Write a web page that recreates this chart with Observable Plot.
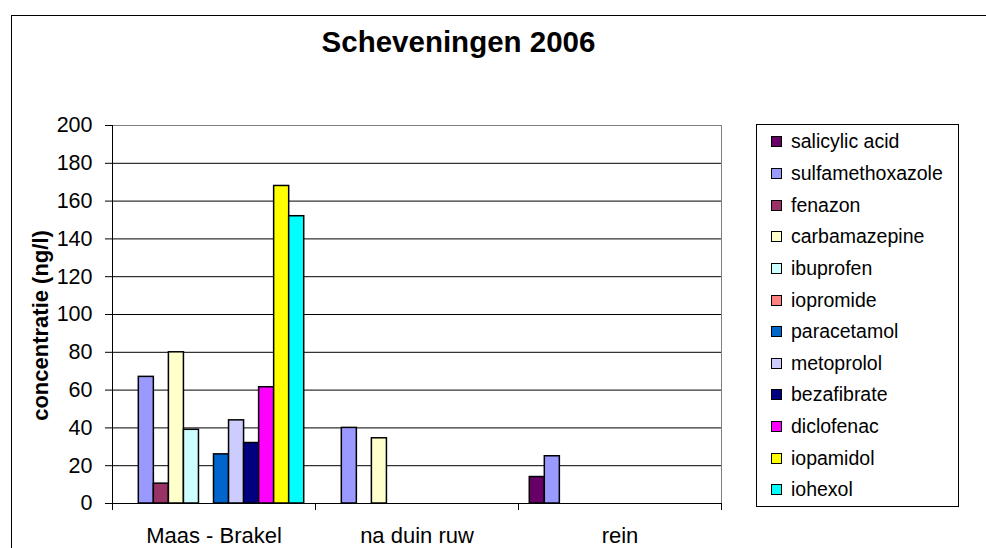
<!DOCTYPE html>
<html>
<head>
<meta charset="utf-8">
<script src="https://cdn.jsdelivr.net/npm/d3@7"></script>
<script src="https://cdn.jsdelivr.net/npm/@observablehq/plot@0.6"></script>
<style>
  html, body { margin: 0; padding: 0; background: #fff; overflow: hidden; }
  #wrap { position: relative; width: 986px; height: 548px; overflow: hidden; font-family: "Liberation Sans", Arial, sans-serif; }
  #frame { position: absolute; left: 11px; top: 15px; width: 1100px; height: 700px; border: 1px solid #000; box-sizing: border-box; }
  #title { position: absolute; left: 0; width: 917px; top: 26px; text-align: center; font-weight: bold; font-size: 29.5px; line-height: 32px; }
  #chart { position: absolute; left: 0; top: 0; }
  #legend { position: absolute; left: 756px; top: 124px; width: 203px; height: 383px; border: 1px solid #000; box-sizing: border-box; padding-top: 1px; background: #fff; }
  .row { display: flex; align-items: center; height: 31.65px; padding-left: 14px; font-size: 19.5px; }
  .sw { width: 9px; height: 9px; border: 1px solid #000; margin-right: 9px; flex: none; }
</style>
</head>
<body>
<div id="wrap">
  <div id="chart"></div>
  <div id="frame"></div>
  <div id="title">Scheveningen 2006</div>
  <div id="legend"></div>
</div>
<script>
const chartTitle = "Scheveningen 2006";
const yLabel = "concentratie (ng/l)";
const groups = ["Maas - Brakel", "na duin ruw", "rein"];
const series = ["salicylic acid", "sulfamethoxazole", "fenazon", "carbamazepine", "ibuprofen", "iopromide",
  "paracetamol", "metoprolol", "bezafibrate", "diclofenac", "iopamidol", "iohexol"];
const maasBrakel = [null, 67, 10.5, 80, 39, null, 26, 44, 32, 61.5, 168, 152];
const naDuinRuw  = [null, 40, null, 34.5, null, null, null, null, null, null, null, null];
const rein       = [14, 25, null, null, null, null, null, null, null, null, null, null];
const colors = ["#660066", "#9999FF", "#993366", "#FFFFCC", "#CCFFFF", "#FF8080",
  "#0066CC", "#CCCCFF", "#000080", "#FF00FF", "#FFFF00", "#00FFFF"];
const yTicks = [0, 20, 40, 60, 80, 100, 120, 140, 160, 180, 200];

const groupValues = [maasBrakel, naDuinRuw, rein];
const GAP = 1.5;                 // Excel gap width 150%
const SLOTS = series.length + GAP;
const rows = groups.flatMap((g, gi) => groupValues[gi].map((v, si) => ({group: g, gi, si, series: series[si], value: v})))
  .filter(d => d.value != null);

const groupIdx = groups.map((g, i) => i);
const boundaries = [...groupIdx, groups.length];
const centers = groupIdx.map(i => i + 0.5);

const plot = Plot.plot({
  width: 986,
  height: 548,
  marginLeft: 112,
  marginRight: 265,
  marginTop: 125,
  marginBottom: 45,
  style: {background: "transparent", fontFamily: "'Liberation Sans', Arial, sans-serif", fontSize: "21.5px", color: "#000", overflow: "visible"},
  x: {type: "linear", domain: [0, groups.length]},
  y: {domain: [0, 200]},
  color: {type: "ordinal", domain: series, range: colors},
  marks: [
    Plot.gridY(yTicks.filter(t => t > 0 && t < 200), {stroke: "#000", strokeOpacity: 1}),
    Plot.frame({anchor: "top", stroke: "#808080"}),
    Plot.frame({anchor: "right", stroke: "#808080"}),
    Plot.rectY(rows, {
      x1: d => d.gi + (GAP / 2 + d.si) / SLOTS,
      x2: d => d.gi + (GAP / 2 + d.si + 1) / SLOTS,
      y: "value",
      fill: "series",
      stroke: "#000",
      strokeWidth: 1.5
    }),
    Plot.frame({anchor: "left", stroke: "#000"}),
    Plot.ruleY([0], {stroke: "#000"}),
    Plot.axisY({ticks: yTicks, tickSize: 7, tickPadding: 13, label: null, stroke: "#000"}),
    Plot.axisX({ticks: boundaries, tickSize: 7, tickFormat: () => "", label: null, stroke: "#000"}),
    Plot.axisX({ticks: centers, tickSize: 0, tickPadding: 24, tickFormat: i => groups[Math.floor(i)], label: null, fontSize: 22}),
    Plot.text([yLabel], {frameAnchor: "left", textAnchor: "middle", rotate: -90, dx: -72, dy: 11, fontWeight: "bold", fontSize: 22})
  ]
});
document.getElementById("chart").appendChild(plot);
document.getElementById("title").textContent = chartTitle;

const color = plot.scale("color");
const legend = document.getElementById("legend");
series.forEach((s, i) => {
  const row = document.createElement("div");
  row.className = "row";
  const sw = document.createElement("span");
  sw.className = "sw";
  sw.style.background = color.range[i];
  const label = document.createElement("span");
  label.textContent = s;
  row.appendChild(sw);
  row.appendChild(label);
  legend.appendChild(row);
});
</script>
</body>
</html>
